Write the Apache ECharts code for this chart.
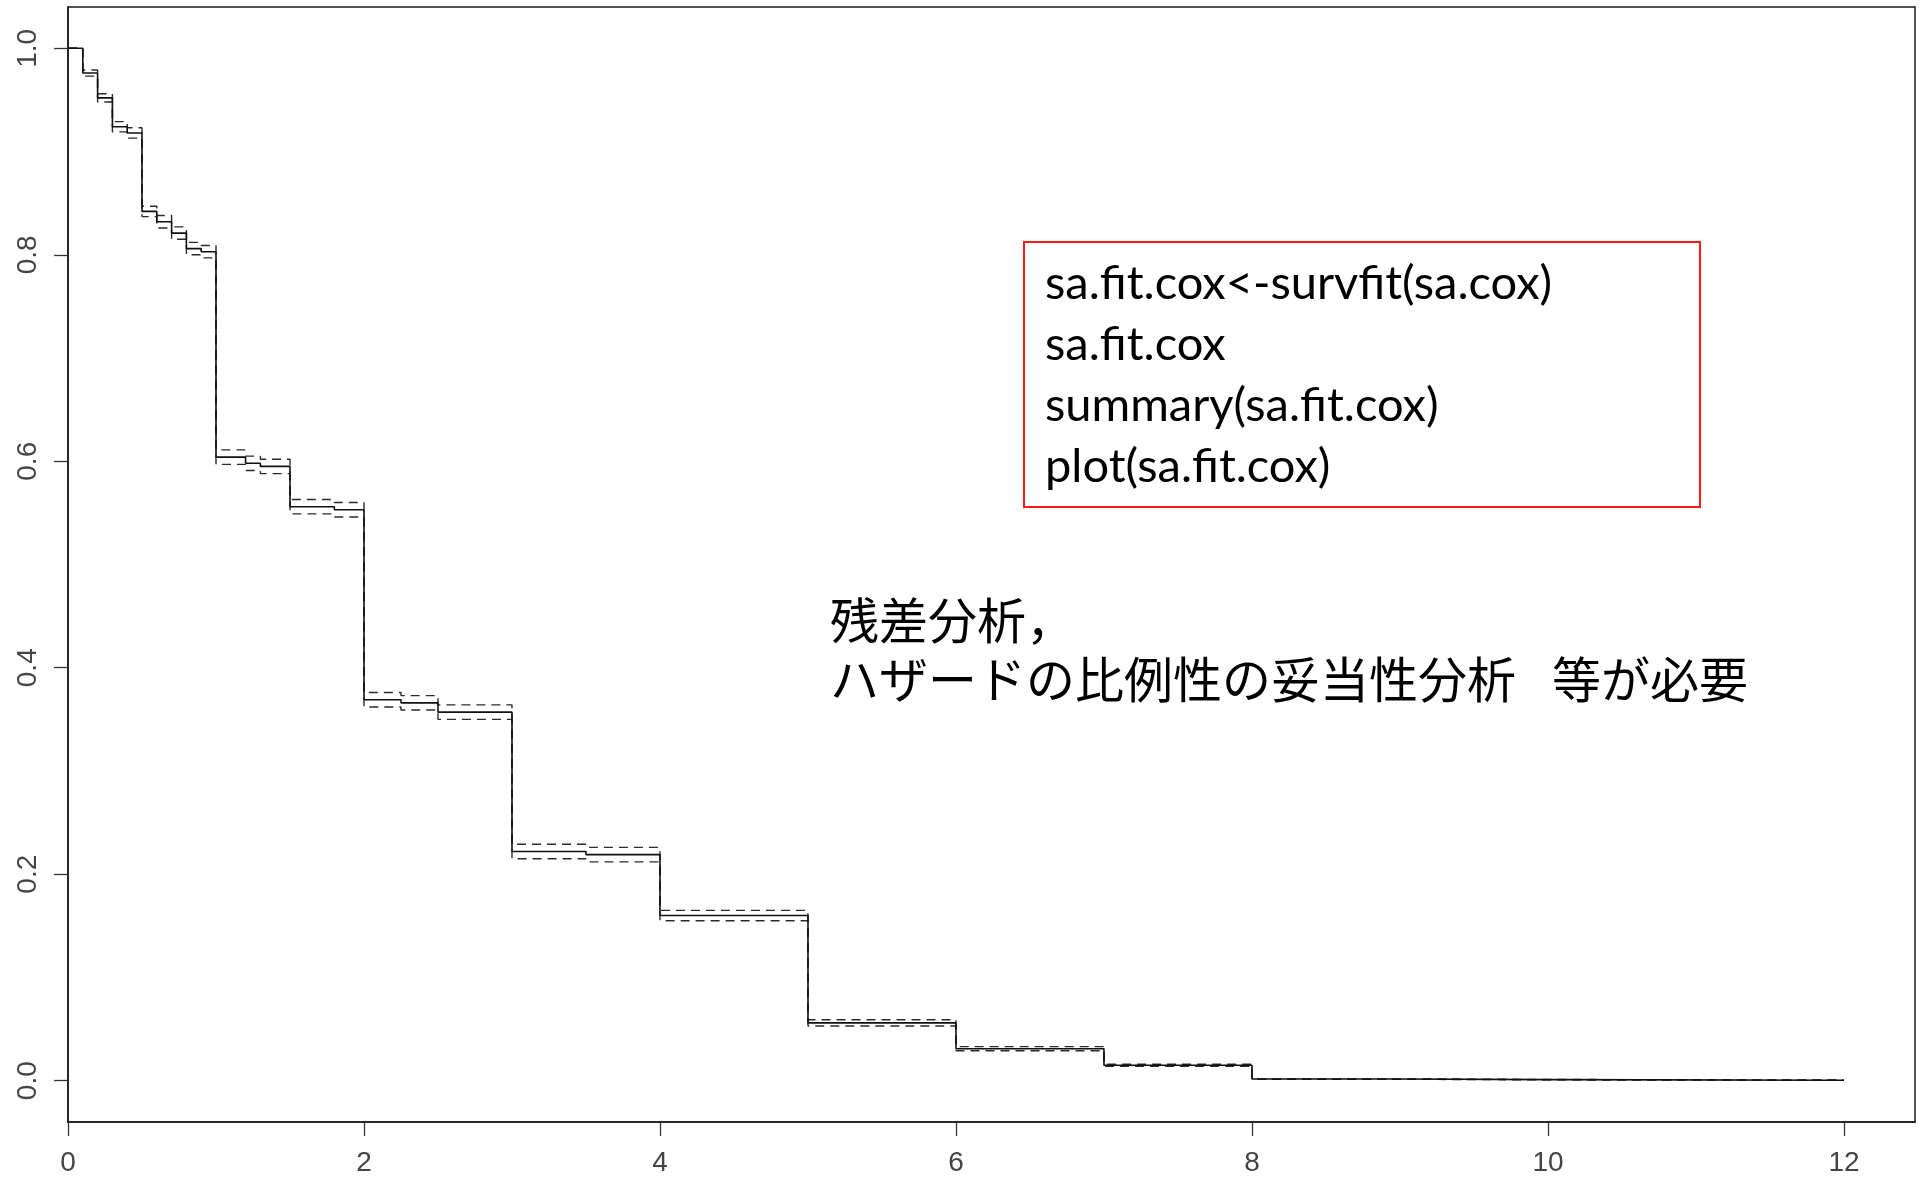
<!DOCTYPE html>
<html>
<head>
<meta charset="utf-8">
<script src="https://cdn.jsdelivr.net/npm/echarts@6/dist/echarts.min.js"></script>
<style>
  html, body { margin: 0; padding: 0; background: #ffffff; }
  #chart { width: 1919px; height: 1177px; }
</style>
</head>
<body>
<div id="chart"></div>
<script>
// Survival estimate from the Cox fit, held constant between event times
const eventTimes = [0, 0.1, 0.2, 0.3, 0.4, 0.5, 0.6, 0.7, 0.8, 0.9, 1.0, 1.2, 1.3, 1.5, 1.8, 2.0, 2.25, 2.5, 3.0, 3.5, 4.0, 5.0, 6.0, 7.0, 8.0, 9.0, 10.0];
const survival = [1.000, 0.976, 0.952, 0.924, 0.918, 0.842, 0.832, 0.821, 0.806, 0.803, 0.604, 0.598, 0.595, 0.556, 0.553, 0.369, 0.366, 0.357, 0.222, 0.219, 0.160, 0.056, 0.031, 0.015, 0.0016, 0.0010, 0.0005];
const upperCI = [1.000, 0.979, 0.956, 0.929, 0.923, 0.847, 0.838, 0.827, 0.812, 0.809, 0.611, 0.605, 0.602, 0.563, 0.560, 0.376, 0.373, 0.364, 0.229, 0.226, 0.165, 0.059, 0.033, 0.016, 0.0018, 0.0012, 0.0006];
const lowerCI = [1.000, 0.973, 0.948, 0.919, 0.913, 0.837, 0.826, 0.815, 0.800, 0.797, 0.597, 0.591, 0.588, 0.549, 0.546, 0.362, 0.359, 0.350, 0.215, 0.212, 0.155, 0.053, 0.029, 0.014, 0.0014, 0.0008, 0.0004];
const followUpEnd = 12;

// Axis ticks
const xTickValues = [0, 2, 4, 6, 8, 10, 12];
const xTickLabels = ['0', '2', '4', '6', '8', '10', '12'];
const yTickValues = [0, 0.2, 0.4, 0.6, 0.8, 1.0];
const yTickLabels = ['0.0', '0.2', '0.4', '0.6', '0.8', '1.0'];

// Annotation text
const codeLines = ['sa.fit.cox<-survfit(sa.cox)', 'sa.fit.cox', 'summary(sa.fit.cox)', 'plot(sa.fit.cox)'];
const noteLine1 = '残差分析，';
const noteLine2 = ['ハザードの比例性の妥当性分析', '等が必要'];

function stepData(values) {
  const pts = eventTimes.map((t, i) => [t, values[i]]);
  pts.push([followUpEnd, values[values.length - 1]]);
  return pts;
}

function labelFor(values, labels) {
  return v => {
    const i = values.findIndex(x => Math.abs(x - v) < 1e-9);
    return i >= 0 ? labels[i] : '';
  };
}

const axisFont = '"Liberation Sans", Arial, sans-serif';
const codeFont = 'Lato, "Open Sans", sans-serif';
const noteFont = '"Noto Sans CJK JP", sans-serif';

const chart = echarts.init(document.getElementById('chart'), null, { renderer: 'canvas' });

function textItem(str, x, y, font) {
  return {
    type: 'text',
    x: x,
    y: y,
    style: {
      text: str,
      font: font,
      fill: '#000000',
      textAlign: 'left',
      textVerticalAlign: 'middle'
    },
    z: 10
  };
}

const graphics = [
  {
    type: 'rect',
    shape: { x: 1024, y: 242, width: 676, height: 265 },
    style: { fill: 'rgba(255,255,255,0)', stroke: '#ff1a1a', lineWidth: 2 },
    z: 10
  }
];
codeLines.forEach((line, i) => {
  graphics.push(textItem(line, 1045, 284 + i * 61, '47px ' + codeFont));
});
graphics.push(textItem(noteLine1, 830, 620, '49px ' + noteFont));
graphics.push(textItem(noteLine2[0], 830, 679, '49px ' + noteFont));
graphics.push(textItem(noteLine2[1], 1552, 679, '49px ' + noteFont));

const option = {
  animation: false,
  backgroundColor: '#ffffff',
  grid: {
    left: 68, top: 7, right: 4, bottom: 55,
    show: true,
    borderColor: '#1a1a1a',
    borderWidth: 1.5,
    backgroundColor: 'transparent'
  },
  xAxis: {
    type: 'value',
    min: 0,
    max: 12.48,
    axisLine: { show: true, onZero: false, lineStyle: { color: '#1a1a1a', width: 1.5 } },
    axisTick: {
      show: true, inside: false, length: 14,
      customValues: xTickValues,
      lineStyle: { color: '#333333', width: 1.3 }
    },
    axisLabel: {
      show: true,
      customValues: xTickValues,
      formatter: labelFor(xTickValues, xTickLabels),
      margin: 27,
      color: '#444444',
      fontSize: 28,
      fontFamily: axisFont
    },
    splitLine: { show: false }
  },
  yAxis: {
    type: 'value',
    min: -0.04,
    max: 1.04,
    axisLine: { show: true, onZero: false, lineStyle: { color: '#1a1a1a', width: 1.5 } },
    axisTick: {
      show: true, inside: false, length: 14,
      customValues: yTickValues,
      lineStyle: { color: '#333333', width: 1.3 }
    },
    axisLabel: {
      show: true,
      customValues: yTickValues,
      formatter: labelFor(yTickValues, yTickLabels),
      rotate: 90,
      margin: 26,
      color: '#444444',
      fontSize: 28,
      fontFamily: axisFont
    },
    splitLine: { show: false }
  },
  series: [
    {
      name: 'upper',
      type: 'line',
      step: 'end',
      data: stepData(upperCI),
      showSymbol: false,
      lineStyle: { color: '#2b2b2b', width: 1.4, type: [9, 6] },
      z: 2
    },
    {
      name: 'lower',
      type: 'line',
      step: 'end',
      data: stepData(lowerCI),
      showSymbol: false,
      lineStyle: { color: '#2b2b2b', width: 1.4, type: [9, 6] },
      z: 2
    },
    {
      name: 'survival',
      type: 'line',
      step: 'end',
      data: stepData(survival),
      showSymbol: false,
      lineStyle: { color: '#111111', width: 1.6, type: 'solid' },
      z: 3
    }
  ],
  graphic: graphics
};

chart.setOption(option);
</script>
</body>
</html>
